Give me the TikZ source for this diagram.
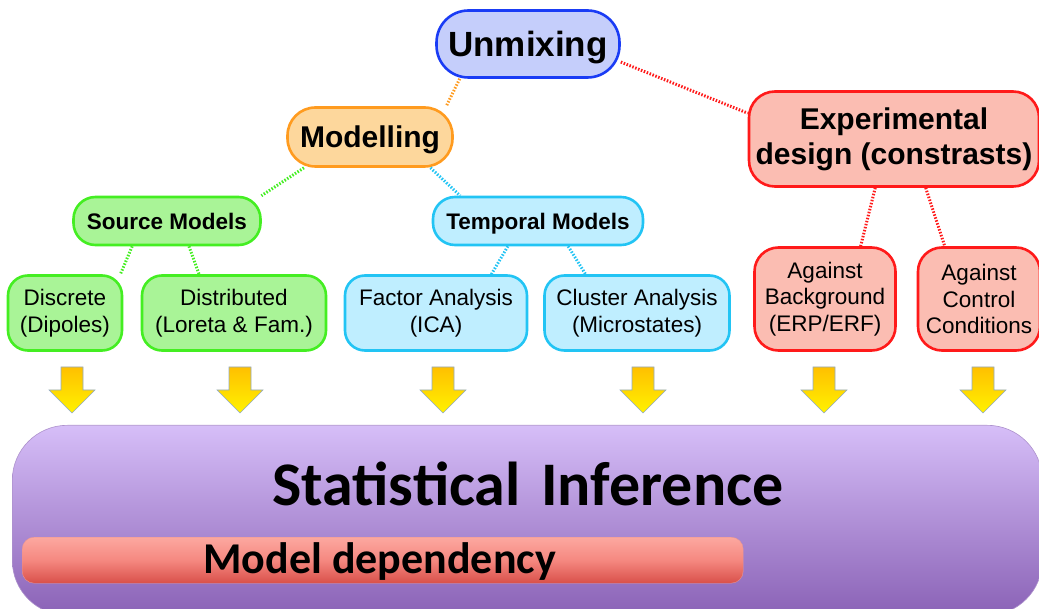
\documentclass[tikz,border=0pt]{standalone}
\usepackage{fontspec}
\setmainfont{Liberation Sans}
\newfontfamily\calibri{Carlito}
\usepackage{tikz}
\usetikzlibrary{calc,positioning}

\definecolor{unmixfill}{HTML}{C5CEFB}
\definecolor{unmixline}{HTML}{1A3CF5}
\definecolor{modfill}{HTML}{FDD79C}
\definecolor{modline}{HTML}{FF9B1F}
\definecolor{srcfill}{HTML}{A9F497}
\definecolor{srcline}{HTML}{44EE22}
\definecolor{tmpfill}{HTML}{BFEEFF}
\definecolor{tmpline}{HTML}{22C4F4}
\definecolor{expfill}{HTML}{FBBDB2}
\definecolor{expline}{HTML}{FF1A1A}
\definecolor{arrtop}{HTML}{FFC000}
\definecolor{arrbot}{HTML}{FFF200}
\definecolor{arrline}{HTML}{8FA9C8}
\definecolor{inftop}{HTML}{D6BEF8}
\definecolor{infbot}{HTML}{8A62B6}
\definecolor{deptop}{HTML}{FCA8A0}
\definecolor{depmid}{HTML}{F58880}
\definecolor{depbot}{HTML}{D9504A}

\begin{document}
\begin{tikzpicture}[x=1pt,y=-1pt,
  box/.style={draw, line width=2.6pt, rounded corners=#1, align=center, inner sep=0pt},
  box/.default=20pt,
  big/.style={font=\bfseries\fontsize{30}{35}\selectfont},
  mid/.style={font=\bfseries\fontsize{22.5}{26}\selectfont, text depth=0pt},
  small/.style={font=\fontsize{22.5}{26.5}\selectfont},
  link/.style={line width=3pt, dash pattern=on 1.5pt off 1.6pt},
  drop/.style={draw=arrline, line width=0.6pt, top color=arrtop, bottom color=arrbot}]
  \useasboundingbox (0,0) rectangle (1039,609);
  \clip (0,0) rectangle (1039,609);

  %%%% top of the tree
  \node[box=32pt, big, fill=unmixfill, draw=unmixline, minimum width=183pt, minimum height=67pt,
        font=\bfseries\fontsize{35}{40}\selectfont, text depth=0pt] (unmix) at (528,44) {Unmixing};
  \node[box=28pt, big, fill=modfill, draw=modline, minimum width=165pt, minimum height=59pt, text depth=0pt] (model) at (370,137) {Modelling};
  \node[box=26pt, big, fill=expfill, draw=expline, minimum width=290pt, minimum height=95pt] (exp_design) at (894,139) {Experimental\\design (constrasts)};

  \node[box=22pt, mid, fill=srcfill, draw=srcline, minimum width=187pt, minimum height=48pt] (src_models) at (167,221) {Source Models};
  \node[box=22pt, mid, fill=tmpfill, draw=tmpline, minimum width=210pt, minimum height=48pt] (temp_models) at (538,221) {Temporal Models};

  %%%% leaves
  \node[box, small, fill=srcfill, draw=srcline, minimum width=114pt, minimum height=75pt] (discrete) at (65,313) {Discrete\\(Dipoles)};
  \node[box, small, fill=srcfill, draw=srcline, minimum width=184pt, minimum height=75pt] (distributed) at (234,313) {Distributed\\(Loreta \& Fam.)};
  \node[box, small, fill=tmpfill, draw=tmpline, minimum width=182pt, minimum height=75pt] (factor_an) at (436,313) {Factor Analysis\\(ICA)};
  \node[box, small, fill=tmpfill, draw=tmpline, minimum width=185pt, minimum height=75pt] (cluster_an) at (637,313) {Cluster Analysis\\(Microstates)};
  \node[box=24pt, small, fill=expfill, draw=expline, minimum width=141pt, minimum height=103pt] (against_bg) at (825,299) {Against\\Background\\(ERP/ERF)};
  \node[box=24pt, small, fill=expfill, draw=expline, minimum width=122pt, minimum height=103pt] (against_ctrl) at (979,299) {Against\\Control\\Conditions};

  %%%% dotted links
  \draw[link, modline] (unmix.207) -- (model.22);
  \draw[link, expline] (unmix.349) -- (exp_design.170);
  \draw[link, srcline] (model.205) -- (src_models.15);
  \draw[link, tmpline] (model.333) -- (temp_models.162);
  \draw[link, srcline] (src_models.216) -- (discrete.35);
  \draw[link, srcline] (src_models.311) -- (distributed.132);
  \draw[link, tmpline] (temp_models.220) -- (factor_an.35);
  \draw[link, tmpline] (temp_models.320) -- (cluster_an.143);
  \draw[link, expline] (exp_design.249) -- (against_bg.56);
  \draw[link, expline] (exp_design.303) -- (against_ctrl.123);

  %%%% yellow arrows
  \foreach \ax in {72,240,443,643,824,983}
    \draw[drop] (\ax-11,367) -- (\ax+11,367) -- (\ax+11,390) -- (\ax+23,390)
      -- (\ax,413) -- (\ax-23,390) -- (\ax-11,390) -- cycle;

  %%%% inference block
  \node[rounded corners=55pt, top color=inftop, bottom color=infbot, draw=infbot!70!white, line width=0.6pt,
        minimum width=1030pt, minimum height=190pt, anchor=north west, inner sep=0pt] (stat_box) at (12,425) {};
  \node[font=\calibri\bfseries\fontsize{62}{70}\selectfont, text depth=0pt] (stat_inf) at (528,484) {Statistical\,\,Inference};
  \node[rounded corners=12pt, top color=deptop, bottom color=depbot, middle color=depmid, draw=depbot!60!white, line width=0.4pt,
        minimum width=721pt, minimum height=46pt, anchor=north west, inner sep=0pt] (dep_bar) at (22,537) {};
  \node[font=\calibri\bfseries\fontsize{44}{50}\selectfont, anchor=west] (model_dep) at (200,562) {Model dependency};
\end{tikzpicture}
\end{document}
